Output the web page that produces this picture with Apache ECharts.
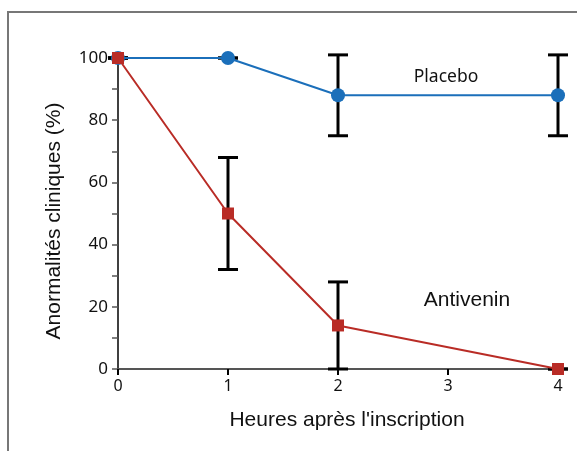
<!DOCTYPE html>
<html>
<head>
<meta charset="utf-8">
<script src="https://cdn.jsdelivr.net/npm/echarts@6/dist/echarts.min.js"></script>
<style>
  html, body { margin: 0; padding: 0; background: #fff; }
  #chart { width: 577px; height: 451px; }
</style>
</head>
<body>
<div id="chart"></div>
<script>
const hours = [0, 1, 2, 4];
const placebo = [100, 100, 88, 88];
const placeboLow = [100, 100, 75, 75];
const placeboHigh = [100, 100, 101, 101];
const antivenin = [100, 50, 14, 0];
const antiveninLow = [100, 32, 0, 0];
const antiveninHigh = [100, 68, 28, 0];
const xTicks = [0, 1, 2, 3, 4];

const chart = echarts.init(document.getElementById('chart'));

// error bars: vertical line plus caps
function errorBar(params, api) {
  const x = api.value(0);
  const lo = api.coord([x, api.value(1)]);
  const hi = api.coord([x, api.value(2)]);
  const half = 10;
  const style = { stroke: '#000', lineWidth: 3 };
  return {
    type: 'group',
    children: [
      { type: 'line', shape: { x1: lo[0], y1: lo[1], x2: hi[0], y2: hi[1] }, style: style },
      { type: 'line', shape: { x1: lo[0] - half, y1: lo[1], x2: lo[0] + half, y2: lo[1] }, style: style },
      { type: 'line', shape: { x1: hi[0] - half, y1: hi[1], x2: hi[0] + half, y2: hi[1] }, style: style }
    ]
  };
}

const option = {
  animation: false,
  grid: { left: 118, right: 19, top: 58, bottom: 82 },
  xAxis: {
    type: 'value',
    min: 0, max: 4, interval: 1,
    axisLine: { lineStyle: { color: '#555', width: 2 } },
    axisTick: { show: true, length: 6, lineStyle: { color: '#000', width: 2 } },
    axisLabel: {
      color: '#111', fontSize: 16, fontFamily: 'Noto Sans', margin: 9,
      formatter: v => xTicks.includes(v) ? String(v) : ''
    },
    splitLine: { show: false }
  },
  yAxis: {
    type: 'value',
    min: 0, max: 100, interval: 20,
    axisLine: { show: true, lineStyle: { color: '#000', width: 1.5 } },
    axisTick: { show: true, length: 6, lineStyle: { color: '#555', width: 1.5 } },
    minorTick: { show: true, splitNumber: 2, length: 6, lineStyle: { color: '#555', width: 1.5 } },
    axisLabel: { color: '#111', fontSize: 17, fontFamily: 'Noto Sans', margin: 10 },
    splitLine: { show: false }
  },
  graphic: [
    {
      type: 'rect', z: -1, silent: true,
      shape: { x: 8, y: 12, width: 700, height: 600 },
      style: { fill: 'none', stroke: '#777', lineWidth: 2 }
    },
    {
      type: 'text', x: 347, y: 420,
      style: {
        text: "Heures après l'inscription", fontSize: 21, fontFamily: 'Liberation Sans',
        fill: '#111', align: 'center', verticalAlign: 'middle'
      }
    },
    {
      type: 'text', x: 54, y: 221, rotation: Math.PI / 2,
      style: {
        text: 'Anormalités cliniques (%)', fontSize: 21, fontFamily: 'Liberation Sans',
        fill: '#111', align: 'center', verticalAlign: 'middle'
      }
    },
    {
      type: 'text', x: 446, y: 77,
      style: { text: 'Placebo', fontSize: 17.5, fontFamily: 'Noto Sans', fill: '#111', align: 'center', verticalAlign: 'middle' }
    },
    {
      type: 'text', x: 467, y: 300,
      style: { text: 'Antivenin', fontSize: 21, fontFamily: 'Liberation Sans', fill: '#111', align: 'center', verticalAlign: 'middle' }
    }
  ],
  series: [
    {
      type: 'custom', z: 1,
      renderItem: errorBar,
      data: hours.map((h, i) => [h, placeboLow[i], placeboHigh[i]])
    },
    {
      type: 'custom', z: 1,
      renderItem: errorBar,
      data: hours.map((h, i) => [h, antiveninLow[i], antiveninHigh[i]])
    },
    {
      name: 'Placebo', type: 'line', z: 3,
      data: hours.map((h, i) => [h, placebo[i]]),
      symbol: 'circle', symbolSize: 14,
      lineStyle: { color: '#1b6fba', width: 2 },
      itemStyle: { color: '#1b6fba' }
    },
    {
      name: 'Antivenin', type: 'line', z: 4,
      data: hours.map((h, i) => [h, antivenin[i]]),
      symbol: 'rect', symbolSize: 12,
      lineStyle: { color: '#b92c26', width: 2 },
      itemStyle: { color: '#b92c26' }
    }
  ]
};

chart.setOption(option);
</script>
</body>
</html>
